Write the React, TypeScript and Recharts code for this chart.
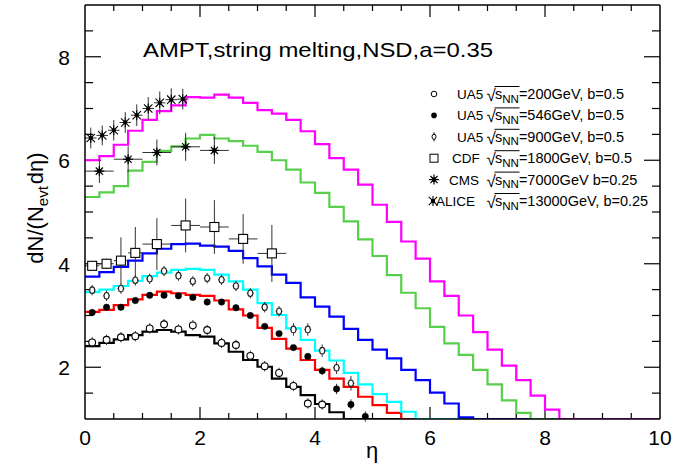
import React from "react";
import { ComposedChart, Line, Scatter, XAxis, YAxis, ErrorBar } from "recharts";

const FONT = "'Liberation Sans', Arial, Helvetica, sans-serif";
const W = 675;
const H = 465;
const MARGIN = { top: 4, right: 14, bottom: 0, left: 0 };
const LEFT_AXIS_W = 85;
const RIGHT_AXIS_W = 1;
const TOP_AXIS_H = 1;
const BOTTOM_AXIS_H = 46;
const X_DOMAIN = [0, 10];
const Y_DOMAIN = [1, 9];

const xLabelTicks = [0, 2, 4, 6, 8, 10];
const yLabelTicks = [2, 4, 6, 8];
const xMarkTicks = [0.5, 1, 1.5, 2, 2.5, 3, 3.5, 4, 4.5, 5, 5.5, 6, 6.5, 7, 7.5, 8, 8.5, 9, 9.5];
const yMarkTicks = [1.5, 2, 2.5, 3, 3.5, 4, 4.5, 5, 5.5, 6, 6.5, 7, 7.5, 8, 8.5];

// histogram bin edges (eta), 40 bins of 0.25
const etaEdges = [0, 0.25, 0.5, 0.75, 1, 1.25, 1.5, 1.75, 2, 2.25, 2.5, 2.75, 3, 3.25, 3.5, 3.75, 4, 4.25, 4.5, 4.75,
  5, 5.25, 5.5, 5.75, 6, 6.25, 6.5, 6.75, 7, 7.25, 7.5, 7.75, 8, 8.25, 8.5, 8.75, 9, 9.25, 9.5, 9.75, 10];

// AMPT histograms (one value per bin)
const h200 = [2.41, 2.47, 2.54, 2.62, 2.69, 2.72, 2.69, 2.62, 2.59, 2.46, 2.30, 2.14, 2.01, 1.78, 1.62, 1.46, 1.29, 1.13,
  0, 0, 0, 0, 0, 0, 0, 0, 0, 0, 0, 0, 0, 0, 0, 0, 0, 0, 0, 0, 0, 0];
const h546 = [3.07, 3.11, 3.20, 3.31, 3.40, 3.46, 3.43, 3.40, 3.38, 3.29, 3.12, 3.00, 2.76, 2.55, 2.36, 2.14, 1.95, 1.78,
  1.62, 1.43, 1.27, 1.12, 0, 0, 0, 0, 0, 0, 0, 0, 0, 0, 0, 0, 0, 0, 0, 0, 0, 0];
const h900 = [3.45, 3.50, 3.57, 3.67, 3.76, 3.83, 3.88, 3.90, 3.88, 3.79, 3.66, 3.50, 3.24, 3.01, 2.75, 2.53, 2.32, 2.13,
  1.89, 1.67, 1.48, 1.33, 1.14, 0, 0, 0, 0, 0, 0, 0, 0, 0, 0, 0, 0, 0, 0, 0, 0, 0];
const h1800 = [3.75, 3.84, 3.94, 4.06, 4.20, 4.29, 4.38, 4.39, 4.35, 4.33, 4.25, 4.11, 3.95, 3.79, 3.63, 3.35, 3.17, 2.98,
  2.74, 2.53, 2.34, 2.17, 1.95, 1.75, 1.51, 1.30, 1.03, 0, 0, 0, 0, 0, 0, 0, 0, 0, 0, 0, 0, 0];
const h7000 = [5.29, 5.38, 5.50, 5.80, 5.97, 6.18, 6.27, 6.42, 6.49, 6.42, 6.37, 6.28, 6.16, 6.00, 5.82, 5.57, 5.37, 5.10,
  4.82, 4.47, 4.15, 3.78, 3.44, 3.14, 2.78, 2.46, 2.24, 1.95, 1.67, 1.36, 1.12, 0, 0, 0, 0, 0, 0, 0, 0, 0];
const h13000 = [6.00, 6.08, 6.30, 6.57, 6.78, 6.95, 7.06, 7.22, 7.21, 7.27, 7.21, 7.11, 6.97, 6.90, 6.78, 6.56, 6.31, 6.04,
  5.82, 5.53, 5.14, 4.81, 4.43, 4.10, 3.66, 3.38, 3.00, 2.68, 2.34, 2.03, 1.75, 1.45, 1.18, 0, 0, 0, 0, 0, 0, 0];

// UA5 200 GeV
const ua200Eta = [0.125, 0.375, 0.625, 0.875, 1.125, 1.375, 1.625, 1.875, 2.125, 2.375, 2.625, 2.875, 3.125, 3.375, 3.625, 3.875, 4.125];
const ua200Val = [2.48, 2.53, 2.58, 2.60, 2.75, 2.83, 2.73, 2.81, 2.72, 2.47, 2.43, 2.22, 2.02, 1.89, 1.64, 1.30, 1.28];
const ua200Err = [0.1, 0.1, 0.1, 0.1, 0.1, 0.1, 0.1, 0.1, 0.1, 0.1, 0.1, 0.1, 0.1, 0.1, 0.1, 0.1, 0.1];

// UA5 546 GeV
const ua546Eta = [0.125, 0.375, 0.625, 0.875, 1.125, 1.375, 1.625, 1.875, 2.125, 2.375, 2.625, 2.875, 3.125, 3.375, 3.625, 3.875, 4.125, 4.375, 4.625, 4.875];
const ua546Val = [3.06, 3.16, 3.16, 3.29, 3.39, 3.39, 3.38, 3.35, 3.26, 3.26, 3.15, 3.00, 2.79, 2.65, 2.38, 2.21, 1.93, 1.58, 1.28, 1.05];
const ua546Err = [0.04, 0.04, 0.04, 0.04, 0.04, 0.04, 0.04, 0.04, 0.04, 0.04, 0.04, 0.04, 0.05, 0.05, 0.05, 0.06, 0.08, 0.1, 0.1, 0.1];

// UA5 900 GeV
const ua900Eta = [0.125, 0.375, 0.625, 0.875, 1.125, 1.375, 1.625, 1.875, 2.125, 2.375, 2.625, 2.875, 3.125, 3.375, 3.625, 3.875, 4.125, 4.375, 4.625];
const ua900Val = [3.49, 3.38, 3.52, 3.68, 3.71, 3.86, 3.77, 3.66, 3.72, 3.69, 3.57, 3.43, 3.16, 3.08, 2.73, 2.73, 2.32, 1.99, 1.69];
const ua900Err = [0.1, 0.1, 0.1, 0.1, 0.1, 0.1, 0.1, 0.1, 0.1, 0.1, 0.1, 0.1, 0.1, 0.1, 0.12, 0.12, 0.12, 0.12, 0.14];
const ua900ErrX = [0.06, 0.06, 0.06, 0.06, 0.06, 0.06, 0.06, 0.06, 0.06, 0.06, 0.06, 0.06, 0.06, 0.06, 0.06, 0.06, 0.06, 0.06, 0.06];

// CDF 1800 GeV
const cdfEta = [0.125, 0.375, 0.625, 0.875, 1.25, 1.75, 2.25, 2.75, 3.25];
const cdfVal = [3.96, 4.00, 4.06, 4.21, 4.38, 4.74, 4.71, 4.48, 4.20];
const cdfErr = [0.08, 0.1, 0.45, 0.5, 0.5, 0.52, 0.52, 0.48, 0.55];
const cdfErrX = [0.125, 0.125, 0.125, 0.125, 0.25, 0.25, 0.25, 0.25, 0.25];

// CMS 7000 GeV
const cmsEta = [0.25, 0.75, 1.25, 1.75, 2.25];
const cmsVal = [5.79, 6.02, 6.15, 6.26, 6.19];
const cmsErr = [0.23, 0.25, 0.25, 0.27, 0.26];
const cmsErrX = [0.25, 0.25, 0.25, 0.25, 0.25];

// ALICE 13000 GeV
const aliceEta = [0.1, 0.3, 0.5, 0.7, 0.9, 1.1, 1.3, 1.5, 1.7];
const aliceVal = [6.43, 6.48, 6.58, 6.73, 6.87, 7.00, 7.11, 7.17, 7.18];
const aliceErr = [0.2, 0.19, 0.2, 0.2, 0.21, 0.22, 0.22, 0.22, 0.2];
const aliceErrX = [0.1, 0.1, 0.1, 0.1, 0.1, 0.1, 0.1, 0.1, 0.1];

const legendNames = ["UA5", "UA5", "UA5", "CDF", "CMS", "ALICE"];
const legendEnergies = ["200", "546", "900", "1800", "7000", "13000"];
const legendSuffix = [", b=0.5", ", b=0.5", ", b=0.5", ", b=0.5", " b=0.25", ", b=0.25"];

const clampFloor = (v: number) => Math.max(v, Y_DOMAIN[0]);
const histData = etaEdges.map((eta, i) => {
  const k = Math.min(i, h200.length - 1);
  return {
    eta,
    h200: clampFloor(h200[k]),
    h546: clampFloor(h546[k]),
    h900: clampFloor(h900[k]),
    h1800: clampFloor(h1800[k]),
    h7000: clampFloor(h7000[k]),
    h13000: clampFloor(h13000[k]),
  };
});

const mkPts = (etas: number[], vals: number[], ey: number[], ex?: number[]) =>
  etas.map((eta, i) => ({ eta, v: vals[i], ey: ey[i], ex: ex ? ex[i] : 0 }));

const pts200 = mkPts(ua200Eta, ua200Val, ua200Err);
const pts546 = mkPts(ua546Eta, ua546Val, ua546Err);
const pts900 = mkPts(ua900Eta, ua900Val, ua900Err, ua900ErrX);
const ptsCdf = mkPts(cdfEta, cdfVal, cdfErr, cdfErrX);
const ptsCms = mkPts(cmsEta, cmsVal, cmsErr, cmsErrX);
const ptsAlice = mkPts(aliceEta, aliceVal, aliceErr, aliceErrX);

const isMajor = (v: number) => Math.abs(v % 2) < 1e-9;

// tick-mark lengths (pixels) converted to data units of the plot frame
const PLOT_W = W - MARGIN.left - MARGIN.right - LEFT_AXIS_W - RIGHT_AXIS_W;
const PLOT_H = H - MARGIN.top - MARGIN.bottom - TOP_AXIS_H - BOTTOM_AXIS_H;
const PX_X = PLOT_W / (X_DOMAIN[1] - X_DOMAIN[0]);
const PX_Y = PLOT_H / (Y_DOMAIN[1] - Y_DOMAIN[0]);
const lenXTick = (v: number) => (isMajor(v) ? 12 : 6) / PX_Y;
const lenYTick = (v: number) => (isMajor(v) ? 16 : 8) / PX_X;

// inward frame ticks drawn as one-sided error bars anchored on the frame
const vTickMarks = [
  ...xMarkTicks.map((x) => ({ eta: x, v: Y_DOMAIN[0], tk: [0, lenXTick(x)] })),
  ...xMarkTicks.map((x) => ({ eta: x, v: Y_DOMAIN[1], tk: [lenXTick(x), 0] })),
];
const hTickMarks = [
  ...yMarkTicks.map((y) => ({ eta: X_DOMAIN[0], v: y, tk: [0, lenYTick(y)] })),
  ...yMarkTicks.map((y) => ({ eta: X_DOMAIN[1], v: y, tk: [lenYTick(y), 0] })),
];
const NoShape = () => <g />;

// marker shapes
const OpenCircle = (p: any) => <circle cx={p.cx} cy={p.cy} r={3.4} fill="#fff" stroke="#000" strokeWidth={1.1} />;
const FilledCircle = (p: any) => <circle cx={p.cx} cy={p.cy} r={3.2} fill="#000" stroke="#000" strokeWidth={0.5} />;
const OpenOval = (p: any) => <ellipse cx={p.cx} cy={p.cy} rx={2.5} ry={3.3} fill="#fff" stroke="#222" strokeWidth={1.1} />;
const OpenSquare = (p: any) => (
  <rect x={p.cx - 4.5} y={p.cy - 4.5} width={9} height={9} fill="#fff" stroke="#000" strokeWidth={1.1} />
);
const CmsStar = (p: any) => {
  const { cx, cy } = p;
  return (
    <g stroke="#000" strokeWidth={1.2}>
      <line x1={cx - 5} y1={cy} x2={cx + 5} y2={cy} />
      <line x1={cx} y1={cy - 5} x2={cx} y2={cy + 5} />
      <line x1={cx - 3.6} y1={cy - 3.6} x2={cx + 3.6} y2={cy + 3.6} />
      <line x1={cx - 3.6} y1={cy + 3.6} x2={cx + 3.6} y2={cy - 3.6} />
      <circle cx={cx} cy={cy} r={1.8} fill="#000" />
    </g>
  );
};
const AliceStar = (p: any) => {
  const { cx, cy } = p;
  return (
    <g stroke="#000" strokeWidth={1.1}>
      <line x1={cx - 4.2} y1={cy - 4.2} x2={cx + 4.2} y2={cy + 4.2} />
      <line x1={cx - 4.2} y1={cy + 4.2} x2={cx + 4.2} y2={cy - 4.2} />
      <line x1={cx} y1={cy - 5} x2={cx} y2={cy + 5} />
      <circle cx={cx} cy={cy} r={1.6} fill="#000" />
    </g>
  );
};

// tick labels
const BottomLabel = (p: any) => (
  <text x={p.x} y={Number(p.y) + 26} textAnchor="middle" fontSize={21} fontFamily={FONT} fill="#000">
    {p.payload.value}
  </text>
);
const LeftLabel = (p: any) => (
  <text x={Number(p.x) - 15} y={Number(p.y) + 8} textAnchor="end" fontSize={21} fontFamily={FONT} fill="#000">
    {p.payload.value}
  </text>
);

const histSeries = [
  { key: "h200", color: "#000000" },
  { key: "h546", color: "#ff0000" },
  { key: "h900", color: "#00ffff" },
  { key: "h1800", color: "#0000ff" },
  { key: "h7000", color: "#57cf4b" },
  { key: "h13000", color: "#ff00ff" },
];

const axisLine = { stroke: "#000", strokeWidth: 1.5 };
const EB = "#333";

const LegendMarker = ({ i, cx, cy }: { i: number; cx: number; cy: number }) => {
  if (i === 0) return <circle cx={cx} cy={cy} r={2.8} fill="#fff" stroke="#000" strokeWidth={1} />;
  if (i === 1) return <circle cx={cx} cy={cy} r={2.8} fill="#000" />;
  if (i === 2)
    return (
      <g>
        <line x1={cx} x2={cx} y1={cy - 4.5} y2={cy + 4.5} stroke="#000" strokeWidth={1} />
        <ellipse cx={cx} cy={cy} rx={2} ry={2.6} fill="#fff" stroke="#000" strokeWidth={1} />
      </g>
    );
  if (i === 3) return <rect x={cx - 4} y={cy - 4} width={8} height={8} fill="#fff" stroke="#000" strokeWidth={1} />;
  if (i === 4) return <CmsStar cx={cx} cy={cy} />;
  return <AliceStar cx={cx} cy={cy} />;
};

export default function App() {
  return (
    <div style={{ position: "absolute", left: 0, top: 0, width: W, height: H, background: "#fff" }}>
      <ComposedChart width={W} height={H} data={histData} margin={MARGIN}>
        <XAxis xAxisId="b" dataKey="eta" type="number" domain={X_DOMAIN} ticks={xLabelTicks} interval={0}
          tickLine={false} tickSize={0} tickMargin={0} tick={BottomLabel} axisLine={axisLine} height={BOTTOM_AXIS_H} allowDataOverflow />
        <XAxis xAxisId="t" orientation="top" dataKey="eta" type="number" domain={X_DOMAIN} ticks={xLabelTicks} interval={0}
          tickLine={false} tick={false} axisLine={axisLine} height={TOP_AXIS_H} allowDataOverflow />
        <YAxis yAxisId="l" type="number" domain={Y_DOMAIN} ticks={yLabelTicks} interval={0}
          tickLine={false} tickSize={0} tickMargin={0} tick={LeftLabel} axisLine={axisLine} width={LEFT_AXIS_W} allowDataOverflow />
        <YAxis yAxisId="r" orientation="right" type="number" domain={Y_DOMAIN} ticks={yLabelTicks} interval={0}
          tickLine={false} tick={false} axisLine={axisLine} width={RIGHT_AXIS_W} allowDataOverflow />
        <Scatter xAxisId="b" yAxisId="l" data={vTickMarks} dataKey="v" shape={NoShape} isAnimationActive={false}
          legendType="none">
          <ErrorBar dataKey="tk" direction="y" width={0} stroke="#000" strokeWidth={1.2} />
        </Scatter>
        <Scatter xAxisId="b" yAxisId="l" data={hTickMarks} dataKey="v" shape={NoShape} isAnimationActive={false}
          legendType="none">
          <ErrorBar dataKey="tk" direction="x" width={0} stroke="#000" strokeWidth={1.2} />
        </Scatter>
        {histSeries.map((s) => (
          <Line key={s.key} xAxisId="b" yAxisId="l" type="stepAfter" dataKey={s.key} stroke={s.color}
            strokeWidth={2.2} dot={false} activeDot={false} isAnimationActive={false} />
        ))}
        <Scatter xAxisId="b" yAxisId="l" data={pts200} dataKey="v" shape={OpenCircle} isAnimationActive={false}>
          <ErrorBar dataKey="ey" direction="y" width={0} stroke={EB} strokeWidth={1} />
        </Scatter>
        <Scatter xAxisId="b" yAxisId="l" data={pts546} dataKey="v" shape={FilledCircle} isAnimationActive={false}>
          <ErrorBar dataKey="ey" direction="y" width={0} stroke={EB} strokeWidth={1} />
        </Scatter>
        <Scatter xAxisId="b" yAxisId="l" data={pts900} dataKey="v" shape={OpenOval} isAnimationActive={false}>
          <ErrorBar dataKey="ey" direction="y" width={0} stroke={EB} strokeWidth={1} />
          <ErrorBar dataKey="ex" direction="x" width={0} stroke={EB} strokeWidth={1} />
        </Scatter>
        <Scatter xAxisId="b" yAxisId="l" data={ptsCdf} dataKey="v" shape={OpenSquare} isAnimationActive={false}>
          <ErrorBar dataKey="ey" direction="y" width={0} stroke={EB} strokeWidth={1} />
          <ErrorBar dataKey="ex" direction="x" width={0} stroke={EB} strokeWidth={1} />
        </Scatter>
        <Scatter xAxisId="b" yAxisId="l" data={ptsCms} dataKey="v" shape={CmsStar} isAnimationActive={false}>
          <ErrorBar dataKey="ey" direction="y" width={0} stroke={EB} strokeWidth={1} />
          <ErrorBar dataKey="ex" direction="x" width={0} stroke={EB} strokeWidth={1} />
        </Scatter>
        <Scatter xAxisId="b" yAxisId="l" data={ptsAlice} dataKey="v" shape={AliceStar} isAnimationActive={false}>
          <ErrorBar dataKey="ey" direction="y" width={0} stroke={EB} strokeWidth={1} />
          <ErrorBar dataKey="ex" direction="x" width={0} stroke={EB} strokeWidth={1} />
        </Scatter>
      </ComposedChart>
      <svg width={W} height={H} style={{ position: "absolute", left: 0, top: 0, pointerEvents: "none" }}
        fontFamily={FONT}>
        <text x={143} y={57} fontSize={21} textLength={350} lengthAdjust="spacingAndGlyphs" fill="#000">
          AMPT,string melting,NSD,a=0.35
        </text>
        {legendNames.map((name, i) => {
          const cy = 94 + i * 21.4;
          const by = cy + 5;
          const lx = [457, 457, 457, 452, 449, 436][i];
          return (
            <g key={i}>
              <LegendMarker i={i} cx={i === 5 ? 433 : 434} cy={cy} />
              <text x={lx} y={by} fontSize={13.5} fill="#000">{name}</text>
              <text x={486.5} y={by + 2} fontSize={17} fill="#000">√</text>
              <line x1={494.5} x2={519.5} y1={by - 12.5} y2={by - 12.5} stroke="#000" strokeWidth={1} />
              <text x={495} y={by} fontSize={14.5} fill="#000">
                s<tspan fontSize={11.5} dy={3.5}>NN</tspan>
                <tspan dy={-3.5}>{"=" + legendEnergies[i] + "GeV" + legendSuffix[i]}</tspan>
              </text>
            </g>
          );
        })}
        <text transform="translate(43,208) rotate(-90)" textAnchor="middle" fontSize={22} fill="#000">
          dN/(N<tspan fontSize={15} dy={5}>evt</tspan>
          <tspan dy={-5} dx={2}>dη)</tspan>
        </text>
        <text x={372} y={458} textAnchor="middle" fontSize={22} fill="#000">η</text>
      </svg>
    </div>
  );
}
